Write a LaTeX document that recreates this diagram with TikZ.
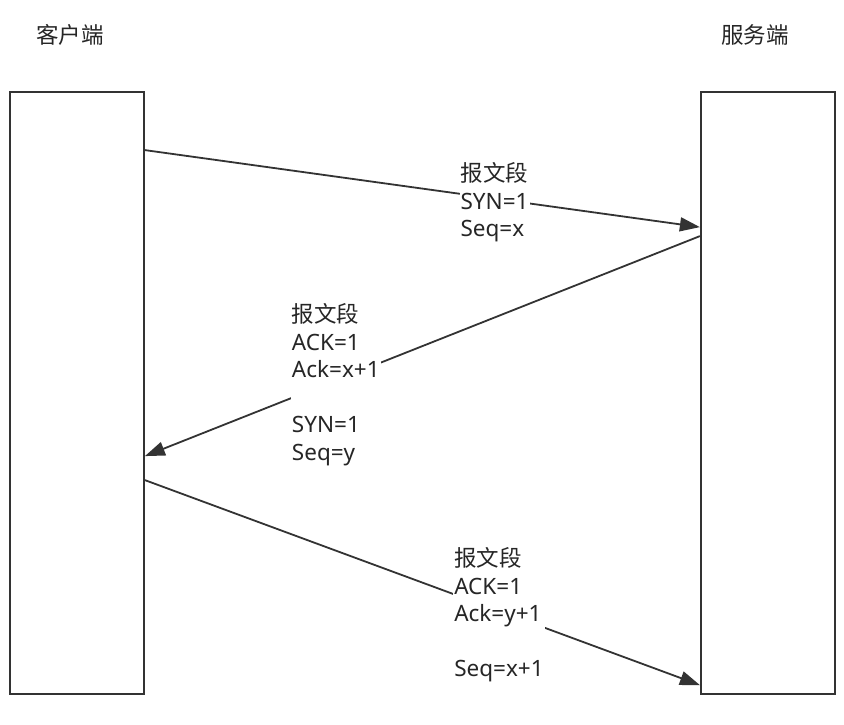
\documentclass[tikz,border=0pt]{standalone}
\usepackage{fontspec}
\setmainfont{Noto Sans}
\newfontfamily\cjk{Noto Sans CJK SC}
\usepackage{tikz}
\usetikzlibrary{positioning,arrows.meta,calc}

\begin{document}
\begin{tikzpicture}[
  x=1pt, y=-1pt, >={Triangle[length=20pt,width=14pt]},
  font=\fontsize{22.5pt}{27.5pt}\selectfont, text=black!85,
  side/.style={draw=black!80, line width=1.8pt, minimum width=134pt,
               minimum height=602pt, inner sep=0pt},
  title/.style={inner sep=0pt, font=\fontsize{22.5pt}{27.5pt}\cjk},
  msg/.style={->, line width=1.8pt, draw=black!80},
  lbl/.style={fill=white, align=left, inner sep=1pt, yshift=-4pt},
]
\useasboundingbox (0,0) rectangle (844,724);

\node[side] (client) at (77,393) {};
\node[side, right=555pt of client] (server) {};
\node[title] (ct) at (70,35) {客户端};
\node[title] (st) at (755,35) {服务端};

\coordinate (c1) at ([yshift=-59pt]client.north east);
\coordinate (s1) at ([yshift=-136pt]server.north west);
\coordinate (s2) at ([yshift=-145pt]server.north west);
\coordinate (c2) at ([yshift=-365pt]client.north east);
\coordinate (c3) at ([yshift=-389pt]client.north east);
\coordinate (s3) at ([yshift=-594pt]server.north west);

\draw[msg] (c1) -- node[lbl, pos=0.63] (m1) {{\cjk 报文段}\\SYN=1\\Seq=x} (s1);
\draw[msg] (s2) -- node[lbl, pos=0.656] (m2) {{\cjk 报文段}\\ACK=1\\Ack=x+1\\[27.5pt]SYN=1\\Seq=y} (c2);
\draw[msg] (c3) -- node[lbl, pos=0.638] (m3) {{\cjk 报文段}\\ACK=1\\Ack=y+1\\[27.5pt]Seq=x+1} (s3);
\end{tikzpicture}
\end{document}
